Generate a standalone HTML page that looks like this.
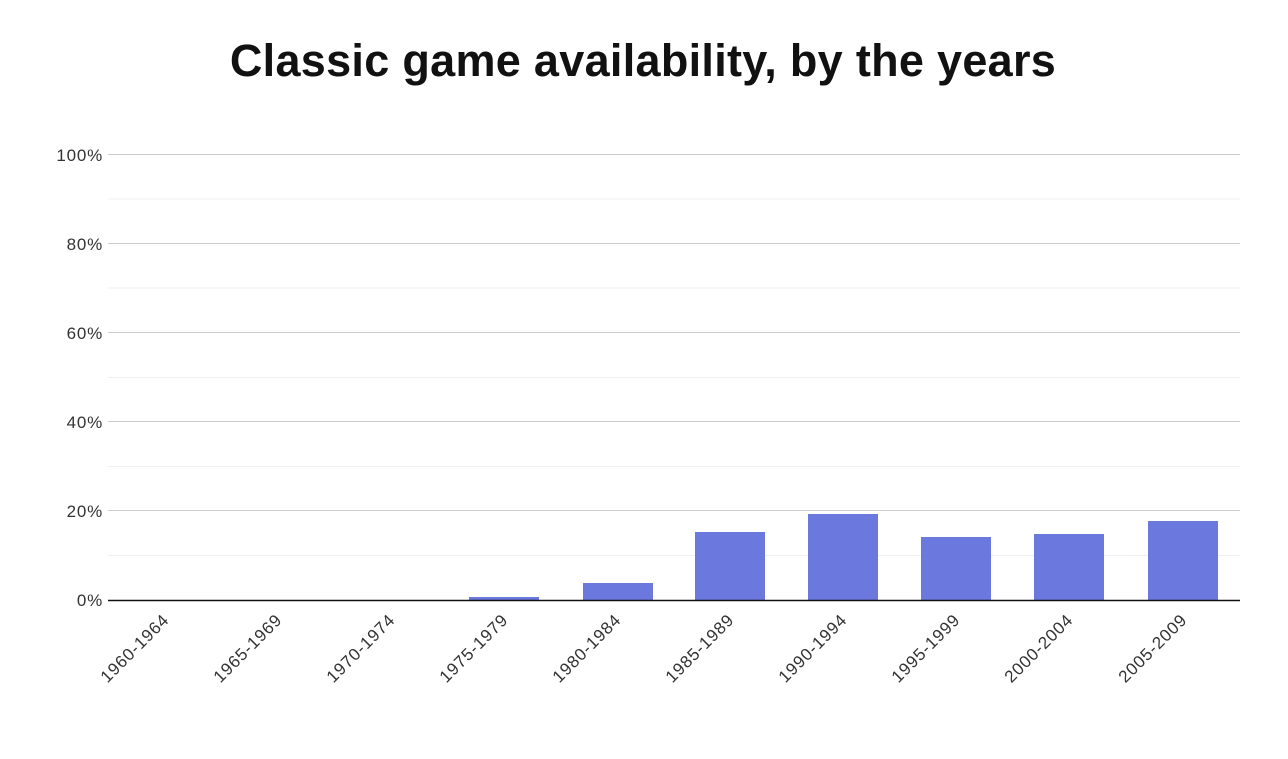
<!DOCTYPE html>
<html><head><meta charset="utf-8"><style>
body{margin:0;background:#fff;width:1288px;height:754px;overflow:hidden;}
</style></head><body>
<svg width="1288" height="754" xmlns="http://www.w3.org/2000/svg" font-family="Liberation Sans, sans-serif">
<text x="643" y="76" text-anchor="middle" font-size="45" font-weight="bold" fill="#111" letter-spacing="0.3">Classic game availability, by the years</text>
<g stroke="#f0f0f0" stroke-width="1">
<line x1="108" x2="1240" y1="199" y2="199"/><line x1="108" x2="1240" y1="288" y2="288"/>
<line x1="108" x2="1240" y1="377.5" y2="377.5"/><line x1="108" x2="1240" y1="466.5" y2="466.5"/>
<line x1="108" x2="1240" y1="555.5" y2="555.5"/>
</g>
<g stroke="#ccc" stroke-width="1">
<line x1="108" x2="1240" y1="154.5" y2="154.5"/><line x1="108" x2="1240" y1="243.5" y2="243.5"/>
<line x1="108" x2="1240" y1="332.5" y2="332.5"/><line x1="108" x2="1240" y1="421.5" y2="421.5"/>
<line x1="108" x2="1240" y1="510.5" y2="510.5"/>
</g>
<g font-size="17" fill="#333" text-anchor="end" letter-spacing="0.8">
<text x="103" y="161">100%</text><text x="103" y="250">80%</text><text x="103" y="339">60%</text>
<text x="103" y="428">40%</text><text x="103" y="517">20%</text><text x="103" y="606">0%</text>
</g>
<g fill="#6b79df">
<rect x="469" y="597" width="70" height="3"/>
<rect x="583" y="583" width="70" height="17"/>
<rect x="695" y="532" width="70" height="68"/>
<rect x="808" y="514" width="70" height="86"/>
<rect x="921" y="537" width="70" height="63"/>
<rect x="1034" y="534" width="70" height="66"/>
<rect x="1148" y="521" width="70" height="79"/>
</g>
<line x1="108" x2="1240" y1="600.5" y2="600.5" stroke="#111" stroke-width="1.5"/>
<g font-size="17" fill="#333" text-anchor="end" letter-spacing="0.8">
<text transform="translate(170,621) rotate(-45)">1960-1964</text>
<text transform="translate(283,621) rotate(-45)">1965-1969</text>
<text transform="translate(396,621) rotate(-45)">1970-1974</text>
<text transform="translate(509,621) rotate(-45)">1975-1979</text>
<text transform="translate(622,621) rotate(-45)">1980-1984</text>
<text transform="translate(735,621) rotate(-45)">1985-1989</text>
<text transform="translate(848,621) rotate(-45)">1990-1994</text>
<text transform="translate(961,621) rotate(-45)">1995-1999</text>
<text transform="translate(1074,621) rotate(-45)">2000-2004</text>
<text transform="translate(1188,621) rotate(-45)">2005-2009</text>
</g>
</svg>
</body></html>
